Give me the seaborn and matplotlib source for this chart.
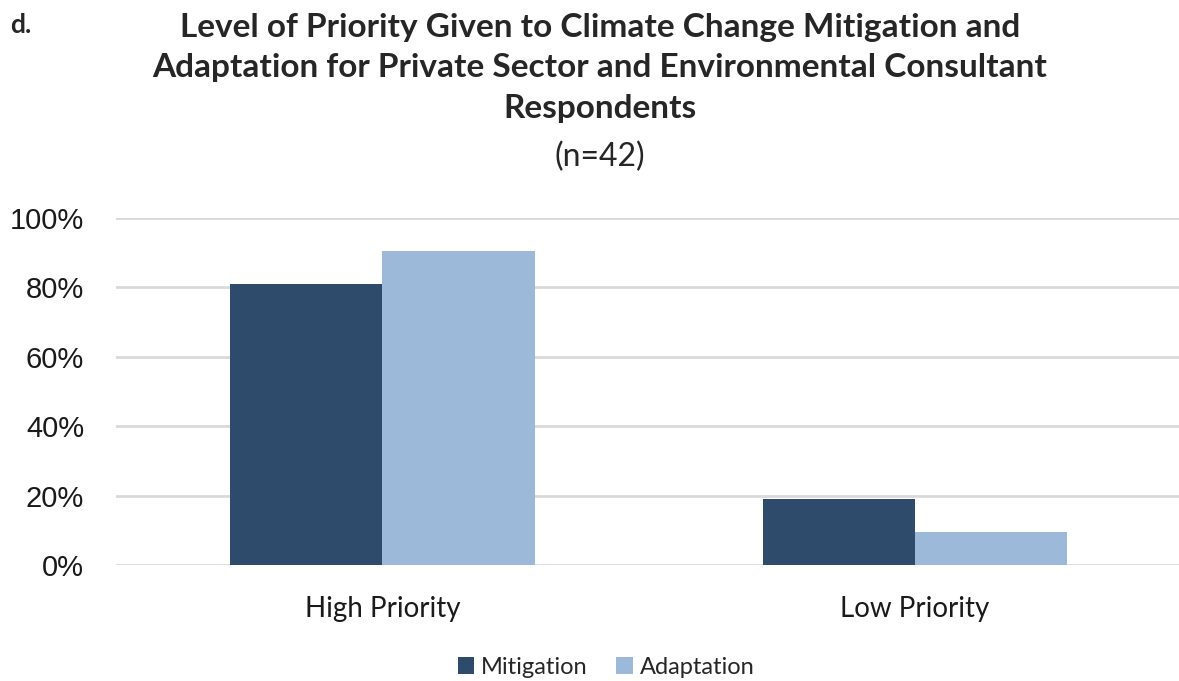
import pandas as pd
import matplotlib.pyplot as plt
import seaborn as sns
from matplotlib.ticker import PercentFormatter

# Datos (n=42)
categorias = ['High Priority', 'Low Priority']
series = ['Mitigation', 'Adaptation']
mitigacion = [0.81, 0.19]
adaptacion = [0.905, 0.095]
colores = ['#2E4B6B', '#9DB9DA']

df = pd.DataFrame({
    'Categoria': categorias * 2,
    'Serie': [series[0]] * 2 + [series[1]] * 2,
    'Valor': mitigacion + adaptacion,
})

sns.set_style('white')
plt.rcParams['font.family'] = ['Lato', 'DejaVu Sans']

fig = plt.figure(figsize=(11.79, 6.81), dpi=100)
ax = fig.add_axes([116 / 1179, 1 - 565 / 681, 1 - 116 / 1179 + 0.002, (565 - 218) / 681])

sns.barplot(data=df, x='Categoria', y='Valor', hue='Serie', palette=colores,
            width=0.572, saturation=1, linewidth=0, ax=ax, legend=True, zorder=3)

ax.set_ylim(0, 1)
ax.set_xlim(-0.5, 1.5)
ax.set_yticks([0, 0.2, 0.4, 0.6, 0.8, 1.0])
ax.yaxis.set_major_formatter(PercentFormatter(1.0, decimals=0))
ax.grid(axis='y', color='#D9D9D9', linewidth=2, zorder=0)
ax.set_axisbelow(True)
for s in ax.spines.values():
    s.set_visible(False)
ax.set_xlabel('')
ax.set_ylabel('')
ax.tick_params(axis='y', length=0, pad=23, labelsize=21)
ax.tick_params(axis='x', length=0, pad=22, labelsize=20)
for lab in ax.get_yticklabels():
    lab.set_fontfamily('Liberation Sans')
    lab.set_color('#1A1A1A')
for lab in ax.get_xticklabels():
    lab.set_color('#1A1A1A')

ax.legend(loc='center', bbox_to_anchor=(0.46, -0.295), ncol=2, frameon=False,
          fontsize=17, handlelength=0.7, handleheight=0.7, handletextpad=0.3,
          columnspacing=1.2)

fig.text(0.509, 1 - 13 / 681, 'Level of Priority Given to Climate Change Mitigation and\n'
         'Adaptation for Private Sector and Environmental Consultant\nRespondents',
         ha='center', va='top', fontsize=24, fontweight='bold', linespacing=1.47)
fig.text(0.509, 1 - 157 / 681, '(n=42)', ha='center', va='center', fontsize=23)
fig.text(10 / 1179, 1 - 25 / 681, 'd.', ha='left', va='center', fontsize=19, fontweight='bold')

fig.savefig('out.png', dpi=100)
